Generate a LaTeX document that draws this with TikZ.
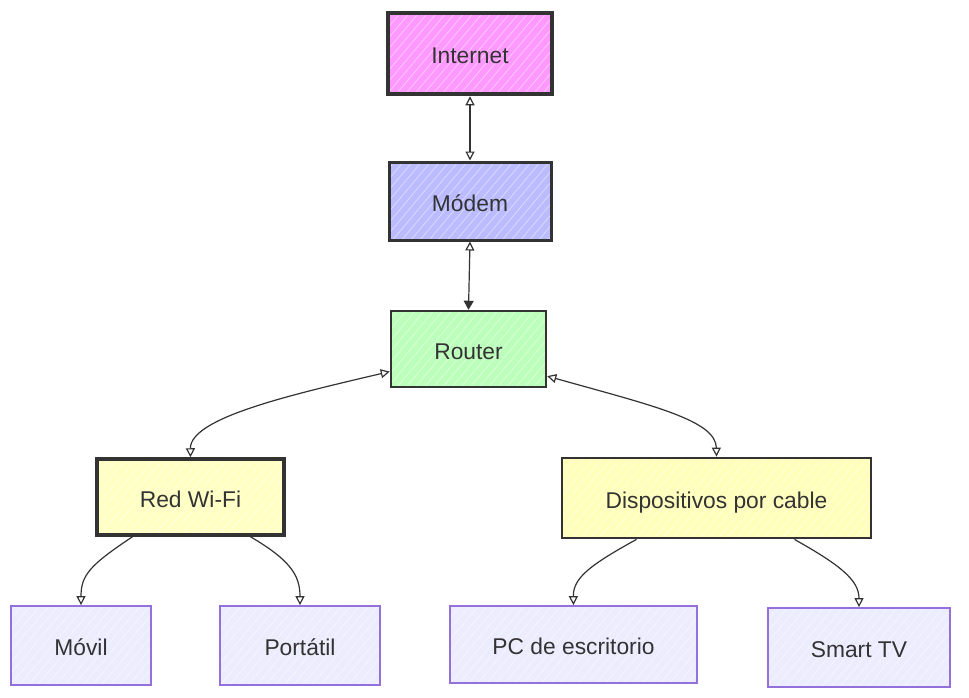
\documentclass[tikz,border=0pt]{standalone}
\usepackage{fontspec}
\setmainfont{Liberation Sans}
\usetikzlibrary{arrows.meta,calc,patterns.meta}
\definecolor{ink}{HTML}{333333}
\definecolor{cInternet}{HTML}{FF99FF}
\definecolor{cModem}{HTML}{BBBBFF}
\definecolor{cRouter}{HTML}{BBFFBB}
\definecolor{cWifi}{HTML}{FFFFC4}
\definecolor{cCable}{HTML}{FFFFBB}
\definecolor{cDev}{HTML}{ECECFF}
\definecolor{cDevLine}{HTML}{9370DB}
\tikzset{
  box/.style={draw=ink, rectangle, inner sep=0pt, text=ink,
    font=\fontsize{22.8}{27}\selectfont, text height=21pt, text depth=1pt,
    preaction={fill=#1},
    preaction={pattern={Lines[angle=50,distance=7pt,line width=0.7pt]}, pattern color=white, opacity=0.5}},
  devbox/.style={box=cDev, draw=cDevLine, line width=1.8pt},
  link/.style={draw=ink, line width=1.2pt},
  otip/.tip={Triangle[open,length=9pt,width=9pt]},
  ftip/.tip={Triangle[length=9pt,width=10pt]},
}
\begin{document}
\begin{tikzpicture}[x=1pt,y=-1pt]
\useasboundingbox (0,0) rectangle (969,697);
\fill[white] (0,0) rectangle (969,697);
% nodes
\node[box=cInternet, line width=4.5pt, minimum width=164pt, minimum height=81pt] (inet) at (470,53.5) {Internet};
\node[box=cModem, line width=3pt, minimum width=162pt, minimum height=78pt] (modem) at (470,201) {Módem};
\node[box=cRouter, line width=2.5pt, minimum width=155pt, minimum height=76pt] (router) at (468.5,349) {Router};
\node[box=cWifi, line width=3.5pt, minimum width=187pt, minimum height=76pt] (wifi) at (190.5,497) {Red Wi-Fi};
\node[box=cCable, line width=2.8pt, minimum width=309pt, minimum height=80pt] (cable) at (716.5,498) {Dispositivos por cable};
\node[devbox, minimum width=140pt, minimum height=79pt] (movil) at (81,645.5) {Móvil};
\node[devbox, minimum width=160pt, minimum height=79pt] (portatil) at (300,645.5) {Portátil};
\node[devbox, minimum width=247pt, minimum height=77pt] (pc) at (573.5,644.5) {PC de escritorio};
\node[devbox, minimum width=182pt, minimum height=79pt] (tv) at (859,647.5) {Smart TV};
% connectors
\draw[link, otip-otip] (inet.south) -- (modem.north);
\draw[link, otip-ftip] (modem.south) -- (router.north);
\draw[link, otip-otip] (router.196) .. controls (290,395) and (190,418) .. (wifi.north);
\draw[link, otip-otip] (router.341) .. controls (650,405) and (716,420) .. (cable.north);
\draw[link, -otip] ($(wifi.south)+(-58,0)$) .. controls (90,565) and (81,575) .. (movil.north);
\draw[link, -otip] ($(wifi.south)+(60,0)$) .. controls (290,560) and (300,575) .. (portatil.north);
\draw[link, -otip] ($(cable.south)+(-80,0)$) .. controls (590,565) and (573,578) .. (pc.north);
\draw[link, -otip] ($(cable.south)+(78,0)$) .. controls (840,565) and (859,580) .. (tv.north);
\end{tikzpicture}
\end{document}
